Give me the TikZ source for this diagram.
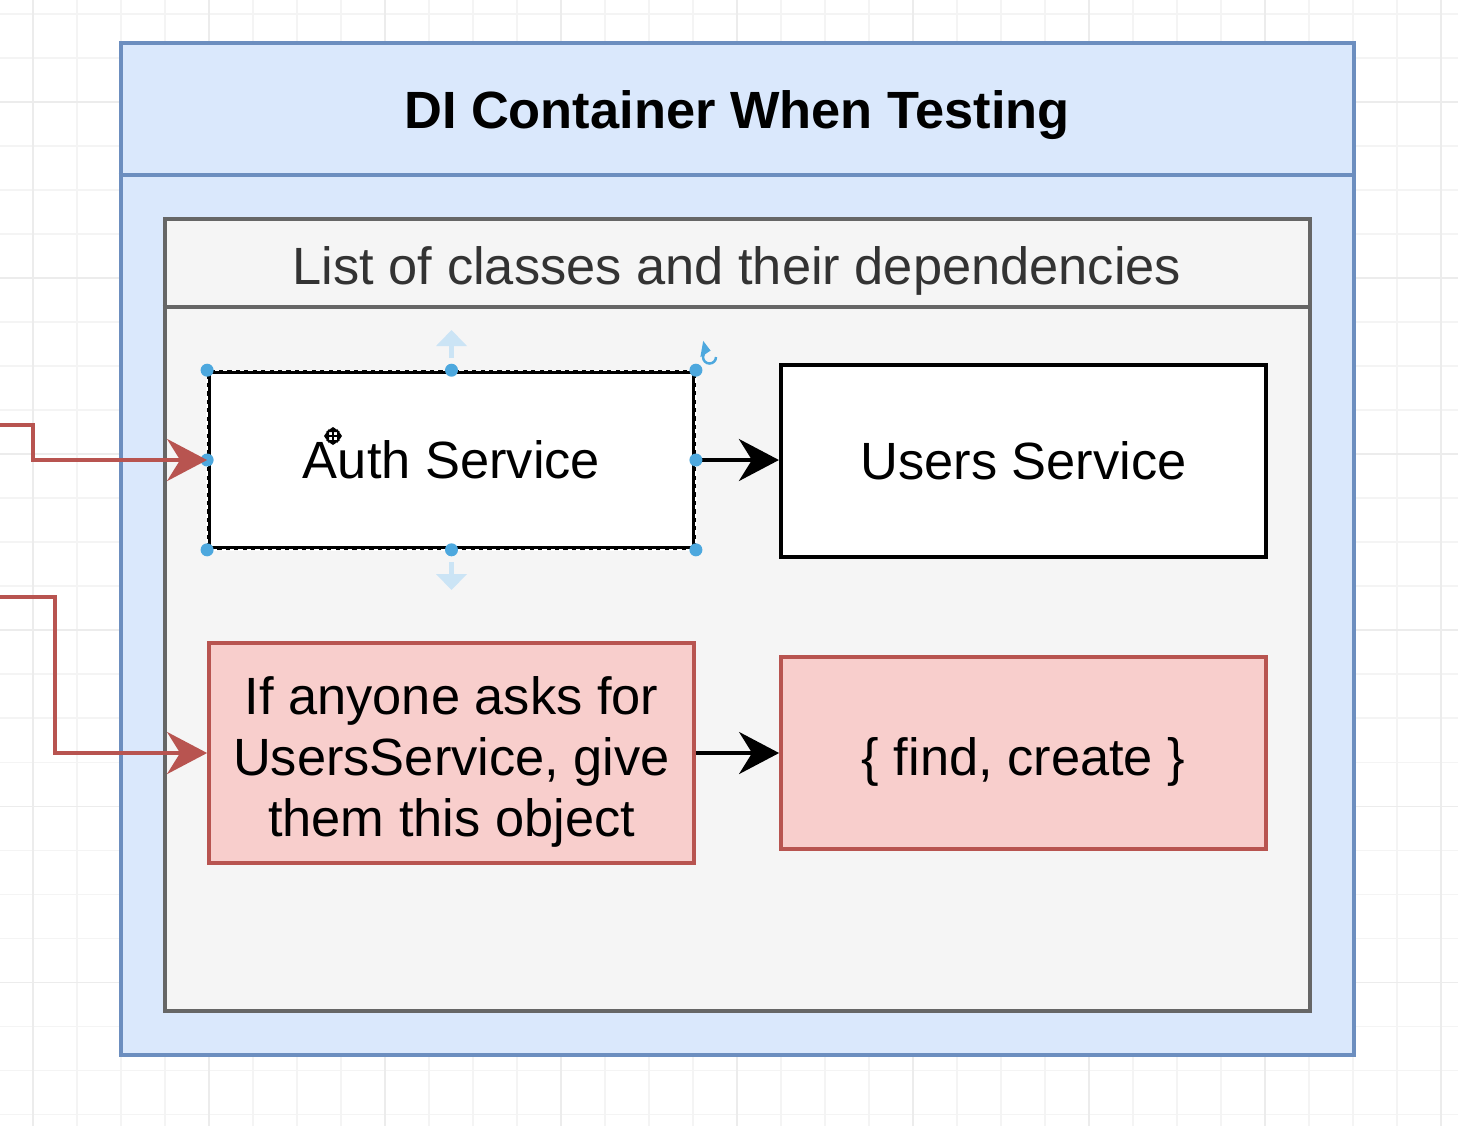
\documentclass[tikz,border=0pt]{standalone}
\usepackage{fontspec}
\setmainfont{Liberation Sans}
\usetikzlibrary{arrows.meta}
\usepackage{xcolor}
\definecolor{bl}{HTML}{DAE8FC}
\definecolor{bld}{HTML}{6C8EBF}
\definecolor{gy}{HTML}{F5F5F5}
\definecolor{gyd}{HTML}{666666}
\definecolor{rd}{HTML}{F8CECC}
\definecolor{rdd}{HTML}{B85450}
\definecolor{hd}{HTML}{4DA8DE}
\definecolor{hl}{HTML}{CBE4F5}
\definecolor{gr}{HTML}{F4F4F4}
\definecolor{grd}{HTML}{ECECEC}

\begin{document}
\begin{tikzpicture}[
            x = 0.01cm, y = -0.01cm, % one unit is one pixel
            > = {Stealth[length=4mm, width=4.2mm, inset=1.3mm]}, % arrow head style
            font = \fontsize{14.9}{17.4}\selectfont,
            line join = miter
        ]

        \tikzstyle{box}=[
            draw = black,
            line width = 1.1pt,
            inner sep = 0pt,
            minimum width = 4.85cm,
            align = center
        ]
        \tikzstyle{mock}=[box, draw = rdd, fill = rd, line width = 1pt]
        \tikzstyle{link}=[->, line width = 1pt]
        \tikzstyle{handle}=[fill = hd]
        \tikzstyle{cursor}=[line width = 0.7pt, {Triangle[length=0.5mm, width=1.4mm]}-{Triangle[length=0.5mm, width=1.4mm]}]

        \useasboundingbox (0,0) rectangle (1458,1126);
        \fill[white] (0,0) rectangle (1458,1126);

        % background grid
        \foreach \gx in {33,77,...,1458} \draw[gr, line width=0.3pt] (\gx,0) -- (\gx,1126);
        \foreach \gy in {14,58,...,1126} \draw[gr, line width=0.3pt] (0,\gy) -- (1458,\gy);
        \foreach \gx in {33,209,...,1458} \draw[grd, line width=0.3pt] (\gx,0) -- (\gx,1126);
        \foreach \gy in {102,278,...,1126} \draw[grd, line width=0.3pt] (0,\gy) -- (1458,\gy);

        % containers
        \node[draw = bld, fill = bl, line width = 1.2pt, minimum width = 12.33cm, minimum height = 10.12cm] (di) [at={(737.5, 549)}] {};
        \draw[bld, line width = 1.2pt] (di.west |- 0,175) -- (di.east |- 0,175);
        \node[font = \fontsize{14.9}{17.4}\selectfont\bfseries, anchor = base] (title) [at={(737, 128)}] {DI Container When Testing};

        \node[draw = gyd, fill = gy, line width = 1.1pt, minimum width = 11.45cm, minimum height = 7.92cm] (deps) [at={(737.5, 615)}] {};
        \draw[gyd, line width = 1.1pt] (deps.west |- 0,307) -- (deps.east |- 0,307);
        \node[anchor = base, text = black!80] (list) [at={(737, 284)}] {List of classes and their dependencies};

        % classes
        \node[box, fill = white, line width = 1pt, minimum height = 1.76cm] (auth) [at={(451.5, 460)}] {Auth Service};
        \node[box, fill = white, minimum height = 1.92cm] (users) [at={(1023.5, 461)}] {Users Service};
        \node[mock, minimum height = 2.2cm] (fake) [at={(451.5, 753)}] {\rule{0pt}{0.56cm}If anyone asks for\\UsersService, give\\them this object};
        \node[mock, minimum height = 1.92cm] (obj) [at={(1023.5, 753)}] {\rule{0pt}{0.55cm}\{ find, create \}};

        % selection of auth
        \draw[white, line width = 0.4pt, dash pattern = on 1.2pt off 1.2pt] (auth.north west) rectangle (auth.south east);
        \draw[hl, line width = 1.7pt, -{Triangle[length=1.6mm, width=3mm]}] (451.5, 358) -- (451.5, 330);
        \draw[hl, line width = 1.7pt, -{Triangle[length=1.6mm, width=3mm]}] (451.5, 562) -- (451.5, 590);
        \draw[hd, line width = 0.7pt, -{Triangle[length=0.9mm, width=1.6mm]}] (716, 357) arc (0:280:6.5);

        \path[link] (auth.east) edge (auth.east -| users.west);
        \path[link] (fake.east) edge (fake.east -| obj.west);

        \foreach \p in {north west, north, north east, west, east, south west, south, south east}
            \fill[handle] (auth.\p) circle (0.065cm);

        % move cursor
        \draw[cursor] (324, 436) -- (342, 436);
        \draw[cursor] (333, 427) -- (333, 445);

        % incoming links
        \coordinate (in1) at (0, 425);
        \coordinate (in2) at (0, 597);
        \draw[link, rdd] (in1) -- ++(33, 0) |- (auth.west);
        \draw[link, rdd] (in2) -- ++(55, 0) |- (fake.west);
    \end{tikzpicture}
\end{document}
